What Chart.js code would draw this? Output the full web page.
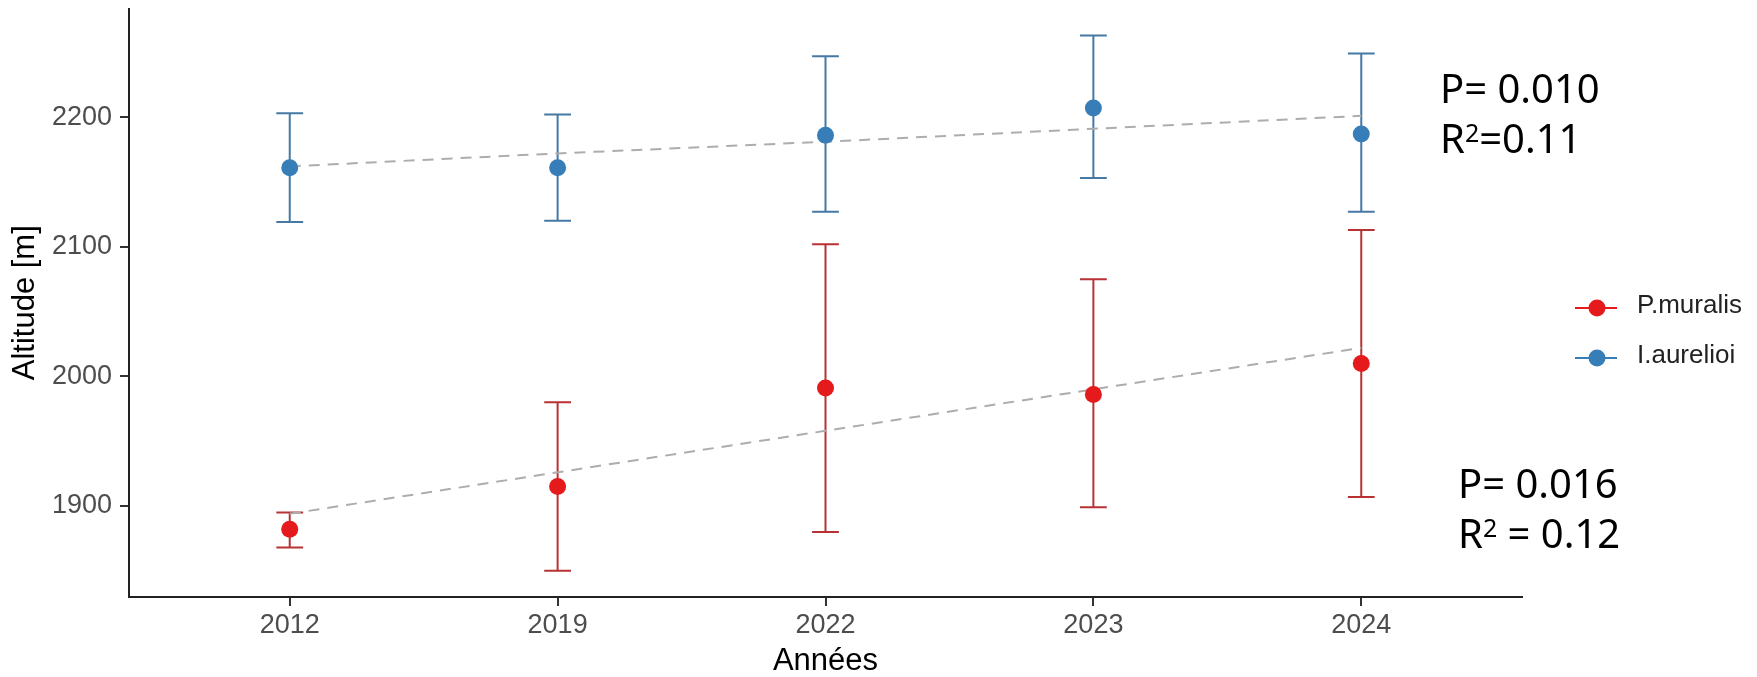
<!DOCTYPE html>
<html>
<head>
<meta charset="utf-8">
<script src="https://cdn.jsdelivr.net/npm/chart.js@4.4.1/dist/chart.umd.min.js"></script>
<style>
  html, body { margin: 0; padding: 0; background: #fff; }
  canvas { display: block; }
</style>
</head>
<body>
<canvas id="chart" width="1757" height="677"></canvas>
<script>
const years = ["2012", "2019", "2022", "2023", "2024"];
const yTicks = [1900, 2000, 2100, 2200];

const seriesNames = ["P.muralis", "I.aurelioi"];

const murMean = [1882, 1915, 1991, 1986, 2010];
const murLow = [1868, 1850, 1880, 1899, 1907];
const murHigh = [1895, 1980, 2102, 2075, 2113];
const murTrend = [1894, 1926, 1958, 1990, 2022];

const aurMean = [2161, 2161, 2186, 2207, 2187];
const aurLow = [2119, 2120, 2127, 2153, 2127];
const aurHigh = [2203, 2202, 2247, 2263, 2249];
const aurTrend = [2162, 2172, 2181, 2191, 2201];

// P value line, then the text after "R²"
const statsAur = ["P= 0.010", "=0.11"];
const statsMur = ["P= 0.016", " = 0.12"];

const red = "#E41A1C";
const blue = "#377EB8";
const redBar = "#b83234";
const blueBar = "#4579a4";
const capWidth = 0.05;

const toPoints = arr => arr.map((v, i) => ({ x: i, y: v }));

// error bars go under the points
const errorBars = {
  id: "errorBars",
  beforeDatasetsDraw(chart) {
    const { ctx, scales: { x, y } } = chart;
    chart.data.datasets.forEach(ds => {
      if (!ds.lows) return;
      ctx.save();
      ctx.strokeStyle = ds.barColor;
      ctx.lineWidth = 2;
      ds.lows.forEach((lo, i) => {
        const px = x.getPixelForValue(i);
        const half = x.getPixelForValue(i + capWidth) - px;
        const yl = y.getPixelForValue(lo);
        const yh = y.getPixelForValue(ds.highs[i]);
        ctx.beginPath();
        ctx.moveTo(px, yl); ctx.lineTo(px, yh);
        ctx.moveTo(px - half, yl); ctx.lineTo(px + half, yl);
        ctx.moveTo(px - half, yh); ctx.lineTo(px + half, yh);
        ctx.stroke();
      });
      ctx.restore();
    });
  }
};

function drawStats(ctx, lines, x, y) {
  ctx.font = "40px 'Noto Sans', sans-serif";
  ctx.fillText(lines[0], x, y);
  const y2 = y + 50;
  ctx.fillText("R", x, y2);
  let cx = x + ctx.measureText("R").width;
  ctx.font = "25px 'Noto Sans', sans-serif";
  ctx.fillText("2", cx, y2 - 11);
  cx += ctx.measureText("2").width;
  ctx.font = "40px 'Noto Sans', sans-serif";
  ctx.fillText(lines[1], cx, y2);
}

// ggplot style legend + the P / R² notes
const sideTexts = {
  id: "sideTexts",
  afterDraw(chart) {
    const { ctx, chartArea } = chart;
    const colors = [red, blue];
    const kx = chartArea.right + 75;
    ctx.save();
    seriesNames.forEach((name, i) => {
      const ky = 308 + i * 50;
      ctx.strokeStyle = colors[i];
      ctx.lineWidth = 2;
      ctx.beginPath();
      ctx.moveTo(kx - 22, ky); ctx.lineTo(kx + 20, ky);
      ctx.stroke();
      ctx.fillStyle = colors[i];
      ctx.beginPath();
      ctx.arc(kx, ky, 8.5, 0, Math.PI * 2);
      ctx.fill();
      ctx.fillStyle = "#222";
      ctx.font = "26px 'Liberation Sans', Arial, sans-serif";
      ctx.textBaseline = "middle";
      ctx.textAlign = "left";
      ctx.fillText(name, kx + 40, ky - 2);
    });

    ctx.fillStyle = "#000";
    ctx.textBaseline = "alphabetic";
    drawStats(ctx, statsAur, 1440, 103);
    drawStats(ctx, statsMur, 1458, 498);
    ctx.restore();
  }
};

const axisFont = { family: "'Liberation Sans', Arial, sans-serif", size: 27 };
const titleFont = { family: "'Liberation Sans', Arial, sans-serif", size: 31, lineHeight: 1 };

new Chart(document.getElementById("chart"), {
  type: "scatter",
  data: {
    datasets: [
      {
        type: "line",
        data: toPoints(murTrend),
        borderColor: "#adadad",
        borderWidth: 2,
        borderDash: [11, 8],
        pointRadius: 0,
        fill: false,
        order: 3
      },
      {
        type: "line",
        data: toPoints(aurTrend),
        borderColor: "#adadad",
        borderWidth: 2,
        borderDash: [11, 8],
        pointRadius: 0,
        fill: false,
        order: 3
      },
      {
        label: seriesNames[0],
        data: toPoints(murMean),
        lows: murLow,
        highs: murHigh,
        barColor: redBar,
        backgroundColor: red,
        borderWidth: 0,
        pointRadius: 8.5,
        pointHoverRadius: 8.5,
        order: 1
      },
      {
        label: seriesNames[1],
        data: toPoints(aurMean),
        lows: aurLow,
        highs: aurHigh,
        barColor: blueBar,
        backgroundColor: blue,
        borderWidth: 0,
        pointRadius: 8.5,
        pointHoverRadius: 8.5,
        order: 1
      }
    ]
  },
  options: {
    responsive: false,
    animation: false,
    devicePixelRatio: 1,
    layout: { padding: { top: 7, right: 235, bottom: 0, left: 0 } },
    plugins: {
      legend: { display: false },
      tooltip: { enabled: false }
    },
    scales: {
      x: {
        type: "linear",
        min: -0.6,
        max: 4.6,
        afterBuildTicks: s => { s.ticks = years.map((y, i) => ({ value: i })); },
        afterFit: s => { s.height = 80; s.paddingLeft = 0; s.paddingRight = 0; },
        ticks: {
          callback: v => years[v] ?? "",
          color: "#4d4d4d",
          font: axisFont,
          padding: 3,
          maxRotation: 0,
          autoSkip: false
        },
        grid: { drawOnChartArea: false, drawTicks: true, tickLength: 9, color: "#333", lineWidth: 2 },
        border: { display: true, color: "#222", width: 2 },
        title: { display: true, text: "Années", color: "#000", font: titleFont, padding: { top: 0, bottom: 0 } }
      },
      y: {
        min: 1829.8,
        max: 2283.8,
        afterBuildTicks: s => { s.ticks = yTicks.map(v => ({ value: v })); },
        afterFit: s => { s.width = 129; s.paddingTop = 0; s.paddingBottom = 0; },
        ticks: {
          callback: v => String(v),
          color: "#4d4d4d",
          font: axisFont,
          padding: 8
        },
        grid: { drawOnChartArea: false, drawTicks: true, tickLength: 9, color: "#333", lineWidth: 2 },
        border: { display: true, color: "#222", width: 2 },
        title: { display: true, text: "Altitude [m]", color: "#000", font: titleFont, padding: { top: 10, bottom: 0 } }
      }
    }
  },
  plugins: [errorBars, sideTexts]
});
</script>
</body>
</html>
